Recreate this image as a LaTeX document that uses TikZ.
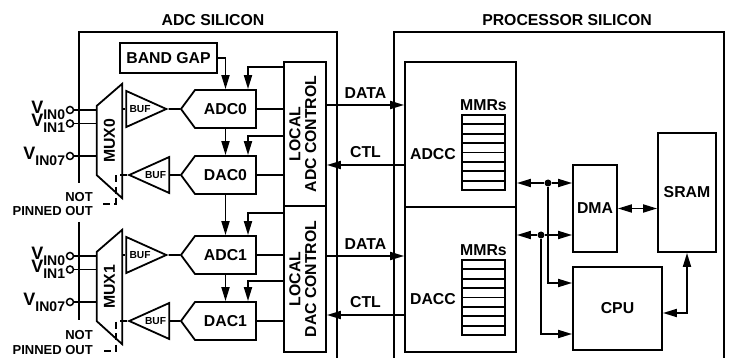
\documentclass[tikz,border=0pt]{standalone}
\usepackage{fontspec}
\setmainfont{Liberation Sans}
\usepackage{graphicx}
\usetikzlibrary{arrows.meta, positioning, shapes.geometric, shapes.symbols, calc}
\newcommand\lblfont{\fontsize{15.8}{15.5}\selectfont\bfseries}
\newcommand\buffont{\fontsize{10.2}{11}\selectfont\bfseries}
\newcommand\npfont{\fontsize{13}{14.5}\selectfont\bfseries}
\newcommand\vin[1]{{\fontsize{18}{18}\selectfont\bfseries V}\raisebox{-6pt}{\fontsize{14}{14}\selectfont\bfseries #1}}
\tikzset{
  wire/.style={line width=1.8pt},
  arr/.style={wire, -{Triangle[length=14pt,width=8pt]}},
  darr/.style={wire, {Triangle[length=14pt,width=8pt]}-{Triangle[length=14pt,width=8pt]}},
  dashwire/.style={wire, dash pattern=on 7pt off 4.5pt},
  siframe/.style={line width=1.8pt},
  blk/.style={rectangle, draw, line width=1.8pt, inner sep=0pt, align=center, font=\lblfont},
  conv/.style={blk, signal, signal to=west, signal pointer angle=107,
               minimum width=75pt, minimum height=38pt},
  bufamp/.style={isosceles triangle, isosceles triangle stretches, draw, line width=1.8pt,
                 inner sep=0pt, minimum width=36pt, minimum height=40pt, font=\buffont},
  mux/.style={rectangle, inner sep=0pt, minimum width=25pt, minimum height=114pt, font=\lblfont},
  muxline/.style={line width=1.8pt, line join=miter},
  ctlbox/.style={blk, minimum width=42pt},
  reg/.style={rectangle, draw, line width=1.8pt, minimum width=43pt,
              minimum height=9.375pt, inner sep=0pt},
  inpin/.style={circle, draw, line width=1.5pt, minimum size=7pt, inner sep=0pt},
  junction/.style={circle, fill, minimum size=7pt, inner sep=0pt},
  vlabel/.style={inner sep=0pt},
  nplabel/.style={inner sep=0pt, align=right, anchor=east, font=\npfont},
  lbltxt/.style={inner sep=0pt, font=\lblfont},
}

\begin{document}
\begin{tikzpicture}[x=1pt, y=-1pt]
  \useasboundingbox (0,0) rectangle (734,358);

  % silicon outlines
  \node[lbltxt] (adcsi) at (213,20) {ADC SILICON};
  \node[lbltxt] (procsi) at (567,20) {PROCESSOR SILICON};
  \draw[siframe] (79,183) |- (337,32) -- (337,358);
  \draw[siframe] (79,222) -- (79,320);
  \draw[siframe] (394,358) |- (724,32) -- (724,358);

  % channel 0
  \node[blk, minimum width=97pt, minimum height=30pt] (bandgap) at (168.5,58) {BAND GAP};
  \node[mux] (mux0) at (109.5,141) {\rotatebox{90}{MUX0}};
  \draw[muxline] (mux0.north east) -- (mux0.south east) -- ($(mux0.south west)+(0,-23)$)
    -- ($(mux0.north west)+(0,22)$) -- cycle;
  \node[conv] (adc0) at (225.5,109) {ADC0};
  \node[conv, below=26.2pt of adc0] (dac0) {DAC0};
  \node[bufamp, left=11.2pt of adc0] (buf0) {BUF};
  \node[bufamp, shape border rotate=180, left=9.7pt of dac0] (dbuf0) {BUF};
  \node[inpin] (in00) at (70,110) {};
  \node[inpin] (in01) at (70,123.5) {};
  \node[inpin] (in07) at (70,156) {};
  \node[vlabel, left=0.5pt of in00] (vl00) {\vin{IN0}};
  \node[vlabel, left=0.5pt of in01] (vl01) {\vin{IN1}};
  \node[vlabel, left=0.5pt of in07] (vl07) {\vin{IN07}};
  \node[nplabel] (np0) at (93,204) {NOT\\PINNED OUT};

  % channel 1
  \node[mux] (mux1) at (109.5,287) {\rotatebox{90}{MUX1}};
  \draw[muxline] (mux1.north east) -- (mux1.south east) -- ($(mux1.south west)+(0,-23)$)
    -- ($(mux1.north west)+(0,22)$) -- cycle;
  \node[conv, below=40.2pt of dac0] (adc1) {ADC1};
  \node[conv, below=26.2pt of adc1] (dac1) {DAC1};
  \node[bufamp, left=11.2pt of adc1] (buf1) {BUF};
  \node[bufamp, shape border rotate=180, left=9.7pt of dac1] (dbuf1) {BUF};
  \node[inpin] (in10) at (70,256) {};
  \node[inpin] (in11) at (70,269.5) {};
  \node[inpin] (in17) at (70,302) {};
  \node[vlabel, left=0.5pt of in10] (vl10) {\vin{IN0}};
  \node[vlabel, left=0.5pt of in11] (vl11) {\vin{IN1}};
  \node[vlabel, left=0.5pt of in17] (vl17) {\vin{IN07}};
  \node[nplabel] (np1) at (93,342.5) {NOT\\PINNED OUT};

  % local control
  \node[ctlbox, minimum height=144pt] (adcctl) at (305,134)
    {\rotatebox{90}{\begin{tabular}{@{}c@{}}LOCAL\\ADC CONTROL\end{tabular}}};
  \node[ctlbox, minimum height=146pt, below=-1.8pt of adcctl] (dacctl)
    {\rotatebox{90}{\begin{tabular}{@{}c@{}}LOCAL\\DAC CONTROL\end{tabular}}};

  % processor
  \node[blk, minimum width=111pt, minimum height=145pt] (adcc) at (460.5,134.5) {};
  \node[blk, minimum width=111pt, minimum height=145pt, below=-1.8pt of adcc] (dacc) {};
  \node[lbltxt] (adcclbl) at (433,154) {ADCC};
  \node[lbltxt] (mmra) at (483.5,105) {MMRs};
  \foreach \i in {0,...,7}
    \node[reg] (rega\i) at (483.5,{119.7+9.375*\i}) {};
  \node[lbltxt] (dacclbl) at (433,299) {DACC};
  \node[lbltxt] (mmrb) at (483.5,250) {MMRs};
  \foreach \i in {0,...,7}
    \node[reg] (regb\i) at (483.5,{264.7+9.375*\i}) {};
  \node[blk, minimum width=44pt, minimum height=87pt] (dma) at (595,208.5) {DMA};
  \node[blk, minimum width=58pt, minimum height=119pt] (sram) at (687,192.5) {SRAM};
  \node[blk, minimum width=89pt, minimum height=83pt] (cpu) at (617.5,308.5) {CPU};
  \node[junction] (bus0) at (548,183) {};
  \node[junction] (bus1) at (541,235) {};

  % inputs and buffers
  \draw[wire] (in00) -- (in00 -| mux0.west);
  \draw[wire] (in01) -- (in01 -| mux0.west);
  \draw[wire] (in07) -- (in07 -| mux0.west);
  \draw[wire] (in10) -- (in10 -| mux1.west);
  \draw[wire] (in11) -- (in11 -| mux1.west);
  \draw[wire] (in17) -- (in17 -| mux1.west);
  \draw[wire] (buf0.west -| mux0.east) -- (buf0.west);
  \draw[wire] (buf1.west -| mux1.east) -- (buf1.west);
  \draw[wire] (buf0.apex) -- (adc0.west);
  \draw[wire] (buf1.apex) -- (adc1.west);
  \draw[wire] (dac0.west) -- (dbuf0.east);
  \draw[wire] (dac1.west) -- (dbuf1.east);
  \draw[dashwire] (dbuf0.apex) -- ++(-11,0) |- ($(np0.east)+(7,0)$);
  \draw[dashwire] (dbuf1.apex) -- ++(-11,0) |- ($(np1.east)+(7,8.5)$);

  % converter chain
  \draw[arr] (bandgap.east) -| (adc0.north);
  \draw[arr] ($(adcctl.north west)+(0,6)$) -| ($(adc0.north)+(22.5,0)$);
  \draw[arr] (adc0.south) -- (dac0.north);
  \draw[arr] ($(adc0.south -| adcctl.west)+(0,7)$) -| ($(dac0.north)+(22.5,0)$);
  \draw[arr] (dac0.south) -- (adc1.north);
  \draw[arr] ($(dacctl.north west)+(0,8)$) -| ($(adc1.north)+(22.5,0)$);
  \draw[arr] (adc1.south) -- (dac1.north);
  \draw[arr] ($(adc1.south -| dacctl.west)+(0,6)$) -| ($(dac1.north)+(22.5,0)$);
  \draw[wire] (adc0.east) -- (adc0.east -| adcctl.west);
  \draw[wire] (dac0.east) -- (dac0.east -| adcctl.west);
  \draw[wire] (adc1.east) -- (adc1.east -| dacctl.west);
  \draw[wire] (dac1.east) -- (dac1.east -| dacctl.west);

  % data and control links
  \coordinate (dat0) at ($(adcctl.east)+(0,-29)$);
  \coordinate (ctl0) at ($(adcctl.east)+(0,31)$);
  \coordinate (dat1) at ($(dacctl.east)+(0,-23)$);
  \coordinate (ctl1) at ($(dacctl.east)+(0,36)$);
  \draw[arr] (dat0) -- (dat0 -| adcc.west) node[lbltxt, midway, above=6pt] {DATA};
  \draw[arr] (ctl0 -| adcc.west) -- (ctl0) node[lbltxt, midway, above=6pt] {CTL};
  \draw[arr] (dat1) -- (dat1 -| dacc.west) node[lbltxt, midway, above=6pt] {DATA};
  \draw[arr] (ctl1 -| dacc.west) -- (ctl1) node[lbltxt, midway, above=6pt] {CTL};

  % processor bus
  \draw[arr] (bus0) -- (bus0 -| adcc.east);
  \draw[arr] (bus0) -- (bus0 -| dma.west);
  \draw[arr] (bus0) |- ($(cpu.west)+(0,-25.5)$);
  \draw[arr] (bus1) -- (bus1 -| dacc.east);
  \draw[arr] (bus1) -- (bus1 -| dma.west);
  \draw[arr] (bus1) |- ($(cpu.west)+(0,25.5)$);
  \draw[darr] (dma.east) -- (dma.east -| sram.west);
  \draw[darr] ($(cpu.east)+(0,4.5)$) -| (sram.south);
\end{tikzpicture}
\end{document}
